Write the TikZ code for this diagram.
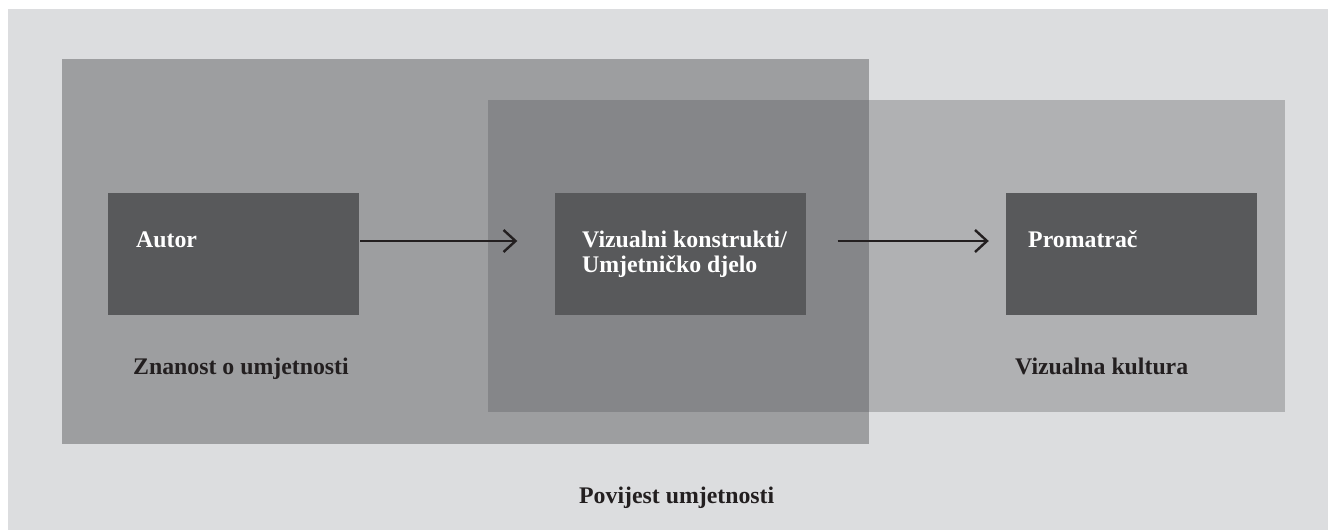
\documentclass[tikz,border=0pt]{standalone}
\usepackage{fontspec}
\setmainfont{Liberation Serif}
\usetikzlibrary{arrows.meta}
\definecolor{bgc}{HTML}{DCDDDF}
\definecolor{leftc}{HTML}{9D9EA0}
\definecolor{rightc}{HTML}{B0B1B3}
\definecolor{overc}{HTML}{858689}
\definecolor{boxc}{HTML}{58595B}
\definecolor{txtc}{HTML}{231F20}
\tikzset{
  darkbox/.style={fill=boxc,draw=none,minimum width=251pt,minimum height=122pt,inner sep=0pt},
  boxtext/.style={text=white,font=\fontsize{23.8}{25}\selectfont\bfseries,anchor=base west,inner sep=0pt,align=left},
  labeltext/.style={text=txtc,font=\fontsize{23.8}{25}\selectfont\bfseries,anchor=base west,inner sep=0pt},
  flow/.style={draw=txtc,line width=2.6pt,-{Straight Barb[length=12pt,width=22pt,line width=2.4pt]}}
}
\begin{document}
\begin{tikzpicture}[x=1pt,y=-1pt]
\useasboundingbox (0,0) rectangle (1328,530);
\fill[white] (0,0) rectangle (1328,530);
\fill[bgc] (8,9) rectangle (1328,530);
\fill[leftc] (62,59) rectangle (869,444);
\fill[rightc] (488,100) rectangle (1285,412);
\fill[overc] (488,100) rectangle (869,412);
\node[darkbox] (autor) at (233.5,254) {};
\node[darkbox] (mid) at (680,254) {};
\node[darkbox] (prom) at (1131.5,254) {};
\node[boxtext] (tautor) at (136,247) {Autor};
\node[boxtext] (tmid1) at (582,247) {Vizualni konstrukti/};
\node[boxtext] (tmid2) at (582,272) {Umjetničko djelo};
\node[boxtext] (tprom) at (1028,247) {Promatrač};
\node[labeltext] (lzn) at (133,374) {Znanost o umjetnosti};
\node[labeltext] (lvk) at (1015,374) {Vizualna kultura};
\node[labeltext] (lpu) at (579,503) {Povijest umjetnosti};
\draw[flow,shorten <=1pt,shorten >=37pt] ([yshift=13pt]autor.east) -- ([yshift=13pt]mid.west);
\draw[flow,shorten <=32pt,shorten >=17pt] ([yshift=13pt]mid.east) -- ([yshift=13pt]prom.west);
\end{tikzpicture}
\end{document}
